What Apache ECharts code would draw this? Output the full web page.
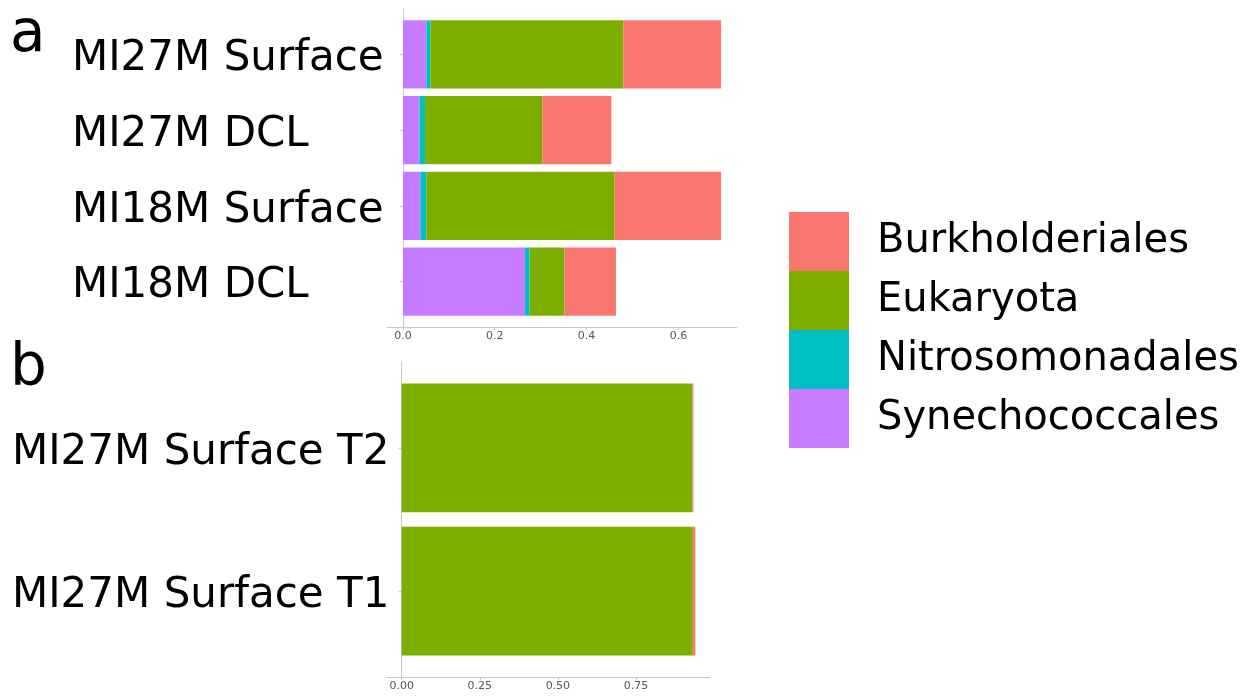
<!DOCTYPE html>
<html>
<head>
<meta charset="utf-8">
<script src="https://cdn.jsdelivr.net/npm/echarts@6/dist/echarts.min.js"></script>
<style>
  html, body { margin: 0; padding: 0; background: #ffffff; }
  #chart { width: 1260px; height: 696px; }
</style>
</head>
<body>
<div id="chart"></div>
<script>
// Relative abundance of the leading orders, stacked left to right
const taxa = ['Synechococcales', 'Nitrosomonadales', 'Eukaryota', 'Burkholderiales'];
const legendOrder = ['Burkholderiales', 'Eukaryota', 'Nitrosomonadales', 'Synechococcales'];

// Panel a: four samples (listed top to bottom)
const samplesA = ['MI27M Surface', 'MI27M DCL', 'MI18M Surface', 'MI18M DCL'];
const synA = [0.051, 0.036, 0.038, 0.266];
const nitA = [0.009, 0.012, 0.013, 0.010];
const eukA = [0.420, 0.256, 0.410, 0.076];
const burA = [0.213, 0.150, 0.232, 0.112];
const ticksA = [0, 0.2, 0.4, 0.6];

// Panel b: time points of the surface sample (listed top to bottom)
const samplesB = ['MI27M Surface T2', 'MI27M Surface T1'];
const synB = [0, 0];
const nitB = [0, 0];
const eukB = [0.931, 0.932];
const burB = [0.003, 0.008];
const ticksB = [0, 0.25, 0.5, 0.75];

const palette = {
  Burkholderiales: '#F8766D',
  Eukaryota: '#7CAE00',
  Nitrosomonadales: '#00BFC4',
  Synechococcales: '#C77CFF'
};

const FONT = 'DejaVu Sans';
const axisGrey = '#c8c8c8';

// Plot frames (panel area including padding around the data)
const frameA = { left: 387, top: 9, width: 350, height: 318 };
const frameB = { left: 387, top: 362, width: 323, height: 315 };
// Left edge of the left-aligned sample names in each panel
const labelStartA = 72;
const labelStartB = 12;

// Discrete axis padding of 0.6 category units at each end
function barArea(frame, n) {
  const band = frame.height / (n + 0.2);
  return { left: frame.left, width: frame.width, top: frame.top + 0.1 * band, height: n * band };
}

// Continuous axis padding of 5% at each end
function valueRange(seriesList) {
  const n = seriesList[0].length;
  let maxTotal = 0;
  for (let i = 0; i < n; i++) {
    let s = 0;
    seriesList.forEach(arr => { s += arr[i]; });
    maxTotal = Math.max(maxTotal, s);
  }
  return { min: -0.05 * maxTotal, max: 1.05 * maxTotal };
}

const rangeA = valueRange([synA, nitA, eukA, burA]);
const rangeB = valueRange([synB, nitB, eukB, burB]);

function frameX(gridIndex, range, ticks, digits) {
  return {
    type: 'value', gridIndex, min: range.min, max: range.max,
    axisLine: { show: true, lineStyle: { color: axisGrey, width: 1 } },
    axisTick: { show: true, customValues: ticks, length: 3, lineStyle: { color: axisGrey } },
    axisLabel: {
      show: true, customValues: ticks, margin: 4,
      formatter: v => Number(v).toFixed(digits),
      fontFamily: FONT, fontSize: 11, color: '#555555'
    },
    splitLine: { show: false }
  };
}
function hiddenX(gridIndex, range) {
  return { type: 'value', gridIndex, min: range.min, max: range.max, show: false, splitLine: { show: false } };
}
function frameY(gridIndex, n) {
  const pos = [];
  for (let i = 1; i <= n; i++) pos.push(i);
  return {
    type: 'value', gridIndex, inverse: true, min: 0.4, max: n + 0.6,
    axisLine: { show: true, lineStyle: { color: axisGrey, width: 1 } },
    axisTick: { show: true, customValues: pos, length: 3, lineStyle: { color: axisGrey } },
    axisLabel: { show: false },
    splitLine: { show: false }
  };
}
function catY(gridIndex, cats, frame, labelStart) {
  return {
    type: 'category', gridIndex, data: cats, inverse: true,
    axisLine: { show: false }, axisTick: { show: false },
    axisLabel: {
      margin: frame.left - labelStart, align: 'left',
      verticalAlign: 'top', lineHeight: 10,
      fontFamily: FONT, fontSize: 42, color: '#000000'
    }
  };
}

function stackSeries(axisIndex, stackName, values) {
  return taxa.map((name, k) => ({
    name, type: 'bar', stack: stackName,
    xAxisIndex: axisIndex, yAxisIndex: axisIndex,
    data: values[k], barCategoryGap: '10%',
    itemStyle: { color: palette[name] },
    emphasis: { disabled: true },
    animation: false
  }));
}

const option = {
  animation: false,
  grid: [
    Object.assign({}, frameA),
    barArea(frameA, samplesA.length),
    Object.assign({}, frameB),
    barArea(frameB, samplesB.length)
  ],
  xAxis: [frameX(0, rangeA, ticksA, 1), hiddenX(1, rangeA), frameX(2, rangeB, ticksB, 2), hiddenX(3, rangeB)],
  yAxis: [frameY(0, samplesA.length), catY(1, samplesA, frameA, labelStartA), frameY(2, samplesB.length), catY(3, samplesB, frameB, labelStartB)],
  legend: {
    data: legendOrder,
    orient: 'vertical',
    left: 789, top: 212, padding: 0,
    itemWidth: 60, itemHeight: 59, itemGap: 0,
    icon: 'rect',
    selectedMode: false,
    textStyle: { fontFamily: FONT, fontSize: 40, color: '#000000', padding: [0, 0, 0, 23] }
  },
  graphic: [
    { type: 'text', left: 10, top: 7, style: { text: 'a', font: '58px "DejaVu Sans"', fill: '#000000' } },
    { type: 'text', left: 10, top: 341, style: { text: 'b', font: '58px "DejaVu Sans"', fill: '#000000' } }
  ],
  series: [].concat(
    stackSeries(1, 'a', [synA, nitA, eukA, burA]),
    stackSeries(3, 'b', [synB, nitB, eukB, burB])
  )
};

const chart = echarts.init(document.getElementById('chart'), null, { renderer: 'canvas' });
chart.setOption(option);
</script>
</body>
</html>
